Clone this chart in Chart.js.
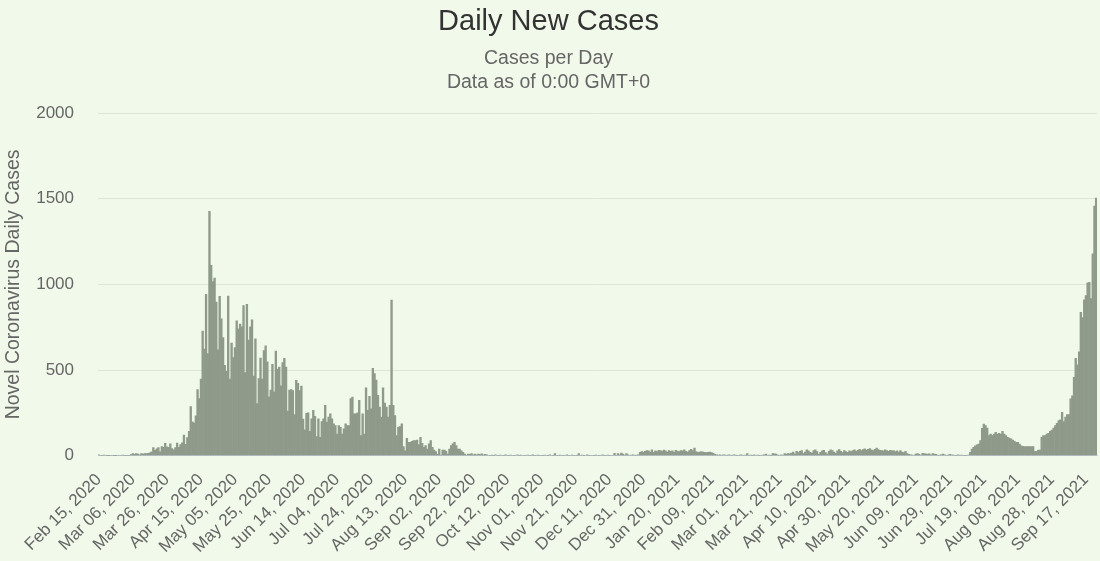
<!DOCTYPE html>
<html>
<head>
<meta charset="utf-8">
<title>Daily New Cases</title>
<script src="https://cdn.jsdelivr.net/npm/chart.js@4.4.0/dist/chart.umd.min.js"></script>
<style>
    html, body { margin: 0; padding: 0; background: #f1faea; }
    #chart-wrap { width: 1100px; height: 561px; position: relative; }
</style>
</head>
<body>
<div id="chart-wrap"><canvas id="daily-cases-chart"></canvas></div>
<script>
// Daily new cases, one value per day, starting Feb 15, 2020
const FEB_2020 = [5, 3, 2, 4, 3, 1, 1, 3, 0, 1, 1, 3, 3, 3, 4];
const MAR_2020 = [2, 2, 2, 2, 7, 13, 8, 12, 10, 6, 12, 9, 13, 12, 14, 17, 23, 47, 32, 40, 47, 23, 54, 49, 73, 52, 49, 70, 42, 35, 47];
const APR_2020 = [74, 49, 65, 75, 120, 66, 106, 142, 287, 198, 191, 233, 386, 334, 447, 728, 623, 942, 596, 1426, 1111, 1016, 1037, 897, 618, 931, 799, 690, 528, 492];
const MAY_2020 = [932, 447, 657, 573, 632, 788, 741, 768, 753, 876, 486, 884, 675, 752, 793, 465, 682, 305, 451, 570, 448, 614, 642, 548, 344, 383, 533, 373, 611, 506, 518];
const JUN_2020 = [408, 544, 569, 517, 261, 383, 386, 380, 240, 440, 422, 380, 407, 214, 151, 247, 250, 142, 216, 265, 230, 112, 216, 108, 200, 216, 294, 196, 225, 245];
const JUL_2020 = [216, 186, 176, 127, 176, 166, 127, 157, 186, 176, 176, 333, 343, 245, 245, 250, 323, 118, 245, 127, 396, 265, 347, 274, 510, 480, 441, 353, 284, 225, 396];
const AUG_2020 = [308, 284, 225, 294, 908, 294, 235, 118, 167, 170, 186, 53, 29, 102, 78, 78, 84, 88, 88, 92, 65, 108, 72, 49, 59, 39, 69, 88, 49, 33, 24];
const SEP_2020 = [10, 39, 4, 33, 33, 25, 10, 39, 59, 69, 78, 59, 39, 39, 29, 20, 10, 4, 10, 8, 12, 6, 10, 5, 9, 7, 11, 6, 8, 5];
const OCT_2020 = [3, 2, 4, 2, 5, 3, 2, 4, 3, 2, 5, 3, 2, 4, 3, 2, 3, 5, 2, 4, 3, 2, 3, 4, 2, 3, 5, 2, 3, 4, 2];
const NOV_2020 = [3, 2, 4, 3, 2, 5, 3, 2, 12, 3, 2, 4, 3, 2, 3, 5, 2, 3, 4, 2, 3, 2, 12, 3, 4, 2, 3, 5, 2, 3];
const DEC_2020 = [3, 2, 4, 3, 2, 3, 5, 2, 3, 4, 2, 3, 3, 14, 3, 12, 5, 15, 10, 4, 12, 6, 3, 4, 5, 3, 4, 6, 20, 24, 22];
const JAN_2021 = [25, 30, 28, 22, 35, 20, 28, 24, 32, 30, 26, 33, 28, 22, 30, 25, 28, 20, 32, 27, 24, 30, 28, 35, 26, 22, 30, 38, 30, 45, 24];
const FEB_2021 = [20, 22, 24, 22, 20, 18, 20, 22, 19, 14, 8, 5, 4, 6, 3, 5, 4, 3, 6, 4, 3, 5, 4, 2, 3, 5, 4, 3];
const MAR_2021 = [4, 12, 3, 4, 2, 5, 3, 4, 2, 3, 4, 5, 10, 3, 4, 2, 12, 11, 10, 4, 3, 5, 3, 12, 10, 12, 11, 15, 22, 10, 25];
const APR_2021 = [18, 25, 30, 12, 22, 35, 28, 20, 15, 30, 34, 24, 8, 20, 28, 32, 18, 10, 26, 35, 30, 22, 14, 28, 36, 25, 18, 30, 24, 20];
const MAY_2021 = [28, 24, 30, 35, 26, 32, 38, 30, 36, 40, 33, 38, 42, 35, 30, 38, 44, 36, 32, 30, 28, 34, 30, 26, 32, 28, 30, 24, 28, 22, 30];
const JUN_2021 = [22, 18, 25, 12, 8, 5, 4, 3, 10, 12, 8, 3, 14, 12, 10, 9, 11, 4, 12, 10, 8, 3, 4, 6, 10, 5, 3, 4, 8, 6];
const JUL_2021 = [4, 3, 2, 5, 3, 4, 3, 2, 3, 4, 20, 39, 49, 58, 64, 68, 88, 160, 185, 176, 162, 117, 127, 117, 127, 136, 127, 131, 127, 142, 127];
const AUG_2021 = [117, 107, 103, 98, 92, 84, 78, 78, 68, 58, 55, 53, 53, 53, 53, 53, 53, 25, 25, 33, 33, 107, 117, 117, 127, 131, 142, 150, 162, 176, 189];
const SEP_2021 = [205, 210, 253, 200, 225, 240, 240, 332, 349, 457, 568, 530, 607, 837, 807, 910, 935, 1009, 1012, 917, 1178, 1457, 1504];

// Labels shown on the x axis, one every 20 days
const TICK_LABELS = [
    'Feb 15, 2020', 'Mar 06, 2020', 'Mar 26, 2020', 'Apr 15, 2020', 'May 05, 2020',
    'May 25, 2020', 'Jun 14, 2020', 'Jul 04, 2020', 'Jul 24, 2020', 'Aug 13, 2020',
    'Sep 02, 2020', 'Sep 22, 2020', 'Oct 12, 2020', 'Nov 01, 2020', 'Nov 21, 2020',
    'Dec 11, 2020', 'Dec 31, 2020', 'Jan 20, 2021', 'Feb 09, 2021', 'Mar 01, 2021',
    'Mar 21, 2021', 'Apr 10, 2021', 'Apr 30, 2021', 'May 20, 2021', 'Jun 09, 2021',
    'Jun 29, 2021', 'Jul 19, 2021', 'Aug 08, 2021', 'Aug 28, 2021', 'Sep 17, 2021'
];
const TICK_EVERY = 20;

const Y_TICKS = [0, 500, 1000, 1500, 2000];

const FONT = '"Liberation Sans", Arial, Helvetica, sans-serif';

const dailyCases = [].concat(
    FEB_2020, MAR_2020, APR_2020, MAY_2020, JUN_2020, JUL_2020, AUG_2020,
    SEP_2020, OCT_2020, NOV_2020, DEC_2020, JAN_2021, FEB_2021, MAR_2021,
    APR_2021, MAY_2021, JUN_2021, JUL_2021, AUG_2021, SEP_2021
);

/**
 * Build "Mon DD, YYYY" labels, one per day from the first date
 */
function buildDayLabels(count) {
    const months = ['Jan', 'Feb', 'Mar', 'Apr', 'May', 'Jun', 'Jul', 'Aug', 'Sep', 'Oct', 'Nov', 'Dec'];
    const labels = [];
    const day = new Date(Date.UTC(2020, 1, 15));
    for (let i = 0; i < count; i++) {
        const dd = String(day.getUTCDate()).padStart(2, '0');
        labels.push(months[day.getUTCMonth()] + ' ' + dd + ', ' + day.getUTCFullYear());
        day.setUTCDate(day.getUTCDate() + 1);
    }
    return labels;
}

const dayLabels = buildDayLabels(dailyCases.length);

new Chart(document.getElementById('daily-cases-chart'), {
    type: 'bar',
    data: {
        labels: dayLabels,
        datasets: [{
            label: 'Daily Cases',
            data: dailyCases,
            backgroundColor: '#8f9a8b',
            borderWidth: 0,
            barPercentage: 1,
            categoryPercentage: 1
        }]
    },
    options: {
        responsive: true,
        maintainAspectRatio: false,
        animation: false,
        layout: {
            padding: { left: 0, right: 3, top: 0, bottom: -2 }
        },
        plugins: {
            legend: { display: false },
            title: {
                display: true,
                text: 'Daily New Cases',
                color: '#333333',
                font: { family: FONT, size: 29, weight: 'normal' },
                padding: { top: 5, bottom: 4 }
            },
            subtitle: {
                display: true,
                text: ['Cases per Day', 'Data as of 0:00 GMT+0'],
                color: '#666666',
                font: { family: FONT, size: 19.5, weight: 'normal' },
                padding: { top: 3.5, bottom: 19 }
            }
        },
        scales: {
            x: {
                grid: { display: false },
                border: { display: true, color: '#ccd6eb', width: 1 },
                afterBuildTicks: axis => {
                    axis.ticks = axis.ticks.filter(t => t.value % TICK_EVERY === 0);
                },
                // rotated labels fit on their own, no extra side padding
                afterFit: axis => {
                    axis.paddingLeft = 0;
                    axis.paddingRight = 0;
                },
                ticks: {
                    autoSkip: false,
                    minRotation: 45,
                    maxRotation: 45,
                    padding: 6,
                    color: '#666666',
                    font: { family: FONT, size: 17 },
                    callback: (value, index) => TICK_LABELS[index]
                }
            },
            y: {
                min: 0,
                max: 2000,
                afterBuildTicks: axis => {
                    axis.ticks = Y_TICKS.map(v => ({ value: v }));
                },
                // fixed axis width so the plot starts where the original does
                afterFit: axis => {
                    axis.width = 98;
                },
                grid: { color: '#dce5d6', drawTicks: false },
                border: { display: false },
                ticks: {
                    padding: 24,
                    color: '#666666',
                    font: { family: FONT, size: 17 },
                    callback: value => String(value)
                },
                title: {
                    display: true,
                    text: 'Novel Coronavirus Daily Cases',
                    color: '#666666',
                    font: { family: FONT, size: 19.5, weight: 'normal' },
                    padding: { top: 2, bottom: 10 }
                }
            }
        }
    }
});
</script>
</body>
</html>
